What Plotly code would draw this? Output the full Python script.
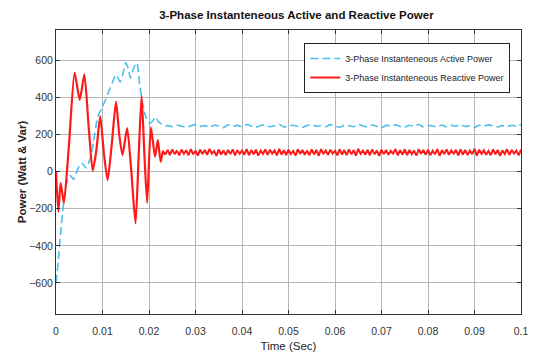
import numpy as np
import plotly.graph_objects as go

# ---------------- data ----------------
# Reactive power: transient part (time in s, value in Var)
t_reactive_tr = [0, 0.0005, 0.001, 0.0017, 0.0028, 0.004, 0.0051, 0.0061, 0.007, 0.0079,
                 0.0087, 0.0095, 0.0103, 0.0111, 0.012, 0.0129, 0.0136, 0.0143, 0.0153, 0.0162,
                 0.0171, 0.0178, 0.0184, 0.019, 0.0196, 0.0204, 0.0213, 0.0219, 0.0225, 0.023]
q_reactive_tr = [0, -215, -61, -169, 150, 535, 388, 526, 250, 5,
                 120, 300, 100, -45, 150, 378, 200, 90, 235, 0,
                 -279, 100, 409, 100, -168, 240, 81, 171, 54, 110]

# Reactive power: steady-state ripple, sampled every 0.5 ms from 23.5 ms
q_reactive_ss = [92, 118, 90, 121, 95, 114, 88, 120, 97, 116, 89, 122, 94, 113,
                 87, 119, 96, 117, 91, 123, 98, 112, 86, 120, 93, 115, 90, 118,
                 95, 121, 88, 116, 97, 114, 92, 122, 89, 117, 94, 119, 87, 113,
                 96, 120, 91, 118, 98, 115, 88, 123, 93, 116, 90, 119, 95, 112,
                 87, 121, 97, 117, 92, 114, 89, 120, 94, 118, 86, 122, 96, 115,
                 91, 119, 98, 113, 88, 121, 93, 117, 90, 120, 95, 116, 87, 123,
                 97, 114, 92, 118, 89, 121, 94, 115, 86, 119, 96, 117, 91, 112,
                 98, 122, 88, 116, 93, 120, 90, 118, 95, 114, 87, 121, 97, 117,
                 92, 119, 89, 113, 94, 122, 86, 116, 96, 120, 91, 115, 98, 118,
                 88, 121, 93, 117, 90, 114, 95, 123, 87, 119, 97, 116, 92, 112,
                 89, 120, 94, 118, 86, 115, 96, 121, 91, 117, 98, 114, 88, 119]
q_ss_start, q_ss_step = 0.0235, 0.0005

# Active power: transient part
t_active_tr = [0, 0.0005, 0.001, 0.0015, 0.002, 0.0025, 0.003, 0.0038, 0.0046, 0.0055,
               0.0065, 0.0072, 0.008, 0.009, 0.0098, 0.0105, 0.0113, 0.0121, 0.0129, 0.0138,
               0.0145, 0.015, 0.0155, 0.016, 0.0167, 0.0174, 0.018, 0.0187, 0.0193, 0.02,
               0.0207, 0.0214, 0.022, 0.0227, 0.0234]
p_active_tr = [-600, -480, -330, -200, -100, -40, -20, -40, 10, 47,
               20, 60, 150, 300, 340, 380, 430, 480, 523, 485,
               540, 588, 560, 506, 560, 588, 470, 360, 296, 263,
               270, 296, 270, 258, 245]

# Active power: steady-state ripple, sampled every 1 ms from 24 ms
p_active_ss = [250, 243, 252, 246, 239, 248, 254, 244, 249, 241, 251, 247,
               238, 253, 245, 250, 242, 255, 246, 240, 249, 252, 243, 248,
               256, 241, 247, 251, 244, 239, 250, 253, 245, 248, 242, 254,
               246, 240, 251, 249, 243, 255, 247, 241, 252, 245, 238, 250,
               248, 253, 244, 240, 251, 246, 255, 242, 249, 247, 243, 252,
               241, 250, 246, 254, 244, 248, 239, 251, 245, 253, 247, 242,
               249, 244, 251, 246, 255]
p_ss_start, p_ss_step = 0.024, 0.001

x_ticks = [0, 0.01, 0.02, 0.03, 0.04, 0.05, 0.06, 0.07, 0.08, 0.09, 0.1]
x_tick_labels = ["0", "0.01", "0.02", "0.03", "0.04", "0.05", "0.06", "0.07", "0.08", "0.09", "0.1"]
y_ticks = [-600, -400, -200, 0, 200, 400, 600]

title_text = "3-Phase Instanteneous Active and Reactive Power"
name_active = "3-Phase Instanteneous Active Power"
name_reactive = "3-Phase Instanteneous Reactive Power"

# ---------------- assemble ----------------
t_q_ss = list(np.round(q_ss_start + q_ss_step * np.arange(len(q_reactive_ss)), 5))
t_p = list(t_active_tr) + list(np.round(p_ss_start + p_ss_step * np.arange(len(p_active_ss)), 5))
p = list(p_active_tr) + list(p_active_ss)

FONT = "Liberation Sans, Arial, sans-serif"
RED = "#FF1A1A"

fig = go.Figure()
fig.add_trace(go.Scatter(x=t_p, y=p, mode="lines", name=name_active,
                         line=dict(color="#4DBEEE", width=1.6, dash="8px,4px", shape="spline", smoothing=0.6)))
# transient part of reactive power (smooth), joined to first steady-state sample
fig.add_trace(go.Scatter(x=list(t_reactive_tr) + t_q_ss[:1], y=list(q_reactive_tr) + q_reactive_ss[:1],
                         mode="lines", name=name_reactive, legendgroup="q", showlegend=False,
                         line=dict(color=RED, width=2.2, shape="spline", smoothing=0.6)))
fig.add_trace(go.Scatter(x=t_q_ss, y=q_reactive_ss, mode="lines", name=name_reactive, legendgroup="q",
                         line=dict(color=RED, width=2.0)))

axis_common = dict(showline=True, linecolor="#333333", linewidth=1, mirror="ticks",
                   ticks="inside", ticklen=4, tickcolor="#333333",
                   showgrid=True, gridcolor="#b5b5b5", gridwidth=1, zeroline=False,
                   tickfont=dict(family=FONT, size=10.5, color="#333333"))

fig.update_layout(
    width=537, height=361,
    margin=dict(l=56, r=9, t=30, b=47),
    paper_bgcolor="white", plot_bgcolor="white",
    title=dict(text="<b>" + title_text + "</b>", x=0.552, xanchor="center", y=0.958, yanchor="middle",
               font=dict(family=FONT, size=11.5, color="#111111")),
    showlegend=True,
    legend=dict(x=0.977, xanchor="right", y=0.954, yanchor="top",
                bgcolor="white", bordercolor="#222222", borderwidth=1,
                font=dict(family=FONT, size=9, color="#222222"),
                itemwidth=30, tracegroupgap=0),
    xaxis=dict(range=[0, 0.1], tickvals=x_ticks, ticktext=x_tick_labels, ticklabelstandoff=7,
               title=dict(text="Time (Sec)", font=dict(family=FONT, size=11.5, color="#222222"), standoff=6),
               **axis_common),
    yaxis=dict(range=[-768, 765], tickvals=y_ticks,
               title=dict(text="<b>Power (Watt & Var)</b>", font=dict(family=FONT, size=11.5, color="#222222"), standoff=0),
               **axis_common),
)

fig.write_html("out.html")
